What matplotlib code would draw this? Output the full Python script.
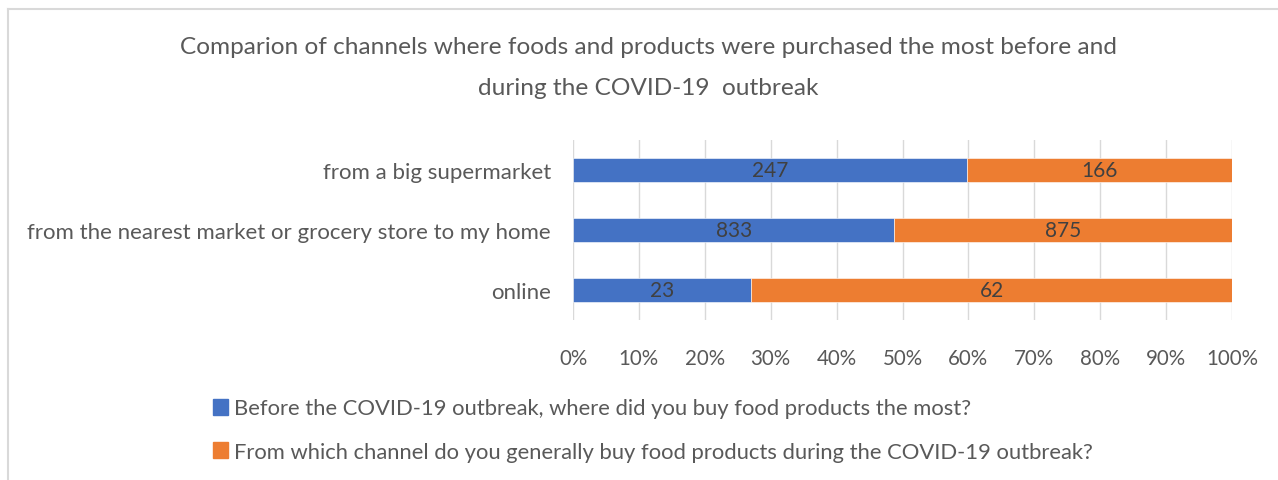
import matplotlib
matplotlib.use("Agg")
import matplotlib.pyplot as plt
from matplotlib.patches import Patch
from matplotlib.lines import Line2D
import numpy as np

categories = ["from a big supermarket",
              "from the nearest market or grocery store to my home",
              "online"]
before = [247, 833, 23]
during = [166, 875, 62]
series_names = ["Before the COVID-19 outbreak, where did you buy food products the most?",
                "From which channel do you generally buy food products during the COVID-19 outbreak?"]
tick_labels = ["0%", "10%", "20%", "30%", "40%", "50%", "60%", "70%", "80%", "90%", "100%"]
title = "Comparion of channels where foods and products were purchased the most before and\nduring the COVID-19  outbreak"

BLUE = "#4472C4"
ORANGE = "#ED7D31"
plt.rcParams["font.family"] = ["Lato", "DejaVu Sans"]

W, H = 1278, 481
fig = plt.figure(figsize=(W / 100, H / 100), dpi=100)

# Chart frame (top and left border lines)
fig.add_artist(Line2D([8 / W, 1], [1 - 10 / H, 1 - 10 / H], transform=fig.transFigure,
                      color="#d9d9d9", lw=1.5))
fig.add_artist(Line2D([8 / W, 8 / W], [0, 1 - 10 / H], transform=fig.transFigure,
                      color="#d9d9d9", lw=1.5))

ax = fig.add_axes([573 / W, 1 - 321 / H, 659 / W, 180 / H])

b = np.array(before, dtype=float)
d = np.array(during, dtype=float)
tot = b + d
bp = b / tot
dp = d / tot
y = np.arange(len(categories))

ax.barh(y, bp, height=0.4, color=BLUE, edgecolor="white", linewidth=0.4, zorder=3)
ax.barh(y, dp, left=bp, height=0.4, color=ORANGE, edgecolor="white", linewidth=0.4, zorder=3)

for i in range(len(categories)):
    ax.text(bp[i] / 2, y[i], str(before[i]), ha="center", va="center",
            fontsize=15, color="#404040", zorder=4)
    ax.text(bp[i] + dp[i] / 2, y[i], str(during[i]), ha="center", va="center",
            fontsize=15, color="#404040", zorder=4)

ax.set_xlim(0, 1)
ax.set_ylim(len(categories) - 0.5, -0.5)
ax.set_xticks(np.linspace(0, 1, 11))
ax.set_xticklabels(tick_labels, fontsize=14.8, color="#595959")
ax.set_yticks(y)
ax.set_yticklabels(categories, fontsize=16, color="#595959")
ax.tick_params(axis="x", length=0, pad=20)
ax.tick_params(axis="y", length=0, pad=16)
ax.grid(axis="x", color="#d9d9d9", lw=1, zorder=0)
for s in ax.spines.values():
    s.set_visible(False)

lines = title.split("\n")
fig.text(648 / W, 1 - 48 / H, lines[0], ha="center", va="center",
         fontsize=17.6, color="#595959")
fig.text(648 / W, 1 - 89 / H, lines[1], ha="center", va="center",
         fontsize=17.6, color="#595959")

handles = [Patch(color=BLUE), Patch(color=ORANGE)]
fig.legend(handles, series_names, loc="center left",
           bbox_to_anchor=(193 / W, 1 - 431 / H), frameon=False,
           fontsize=15.8, labelcolor="#595959", handlelength=0.7, handleheight=0.75,
           handletextpad=0.25, labelspacing=1.05)

fig.savefig("out.png", dpi=100)
